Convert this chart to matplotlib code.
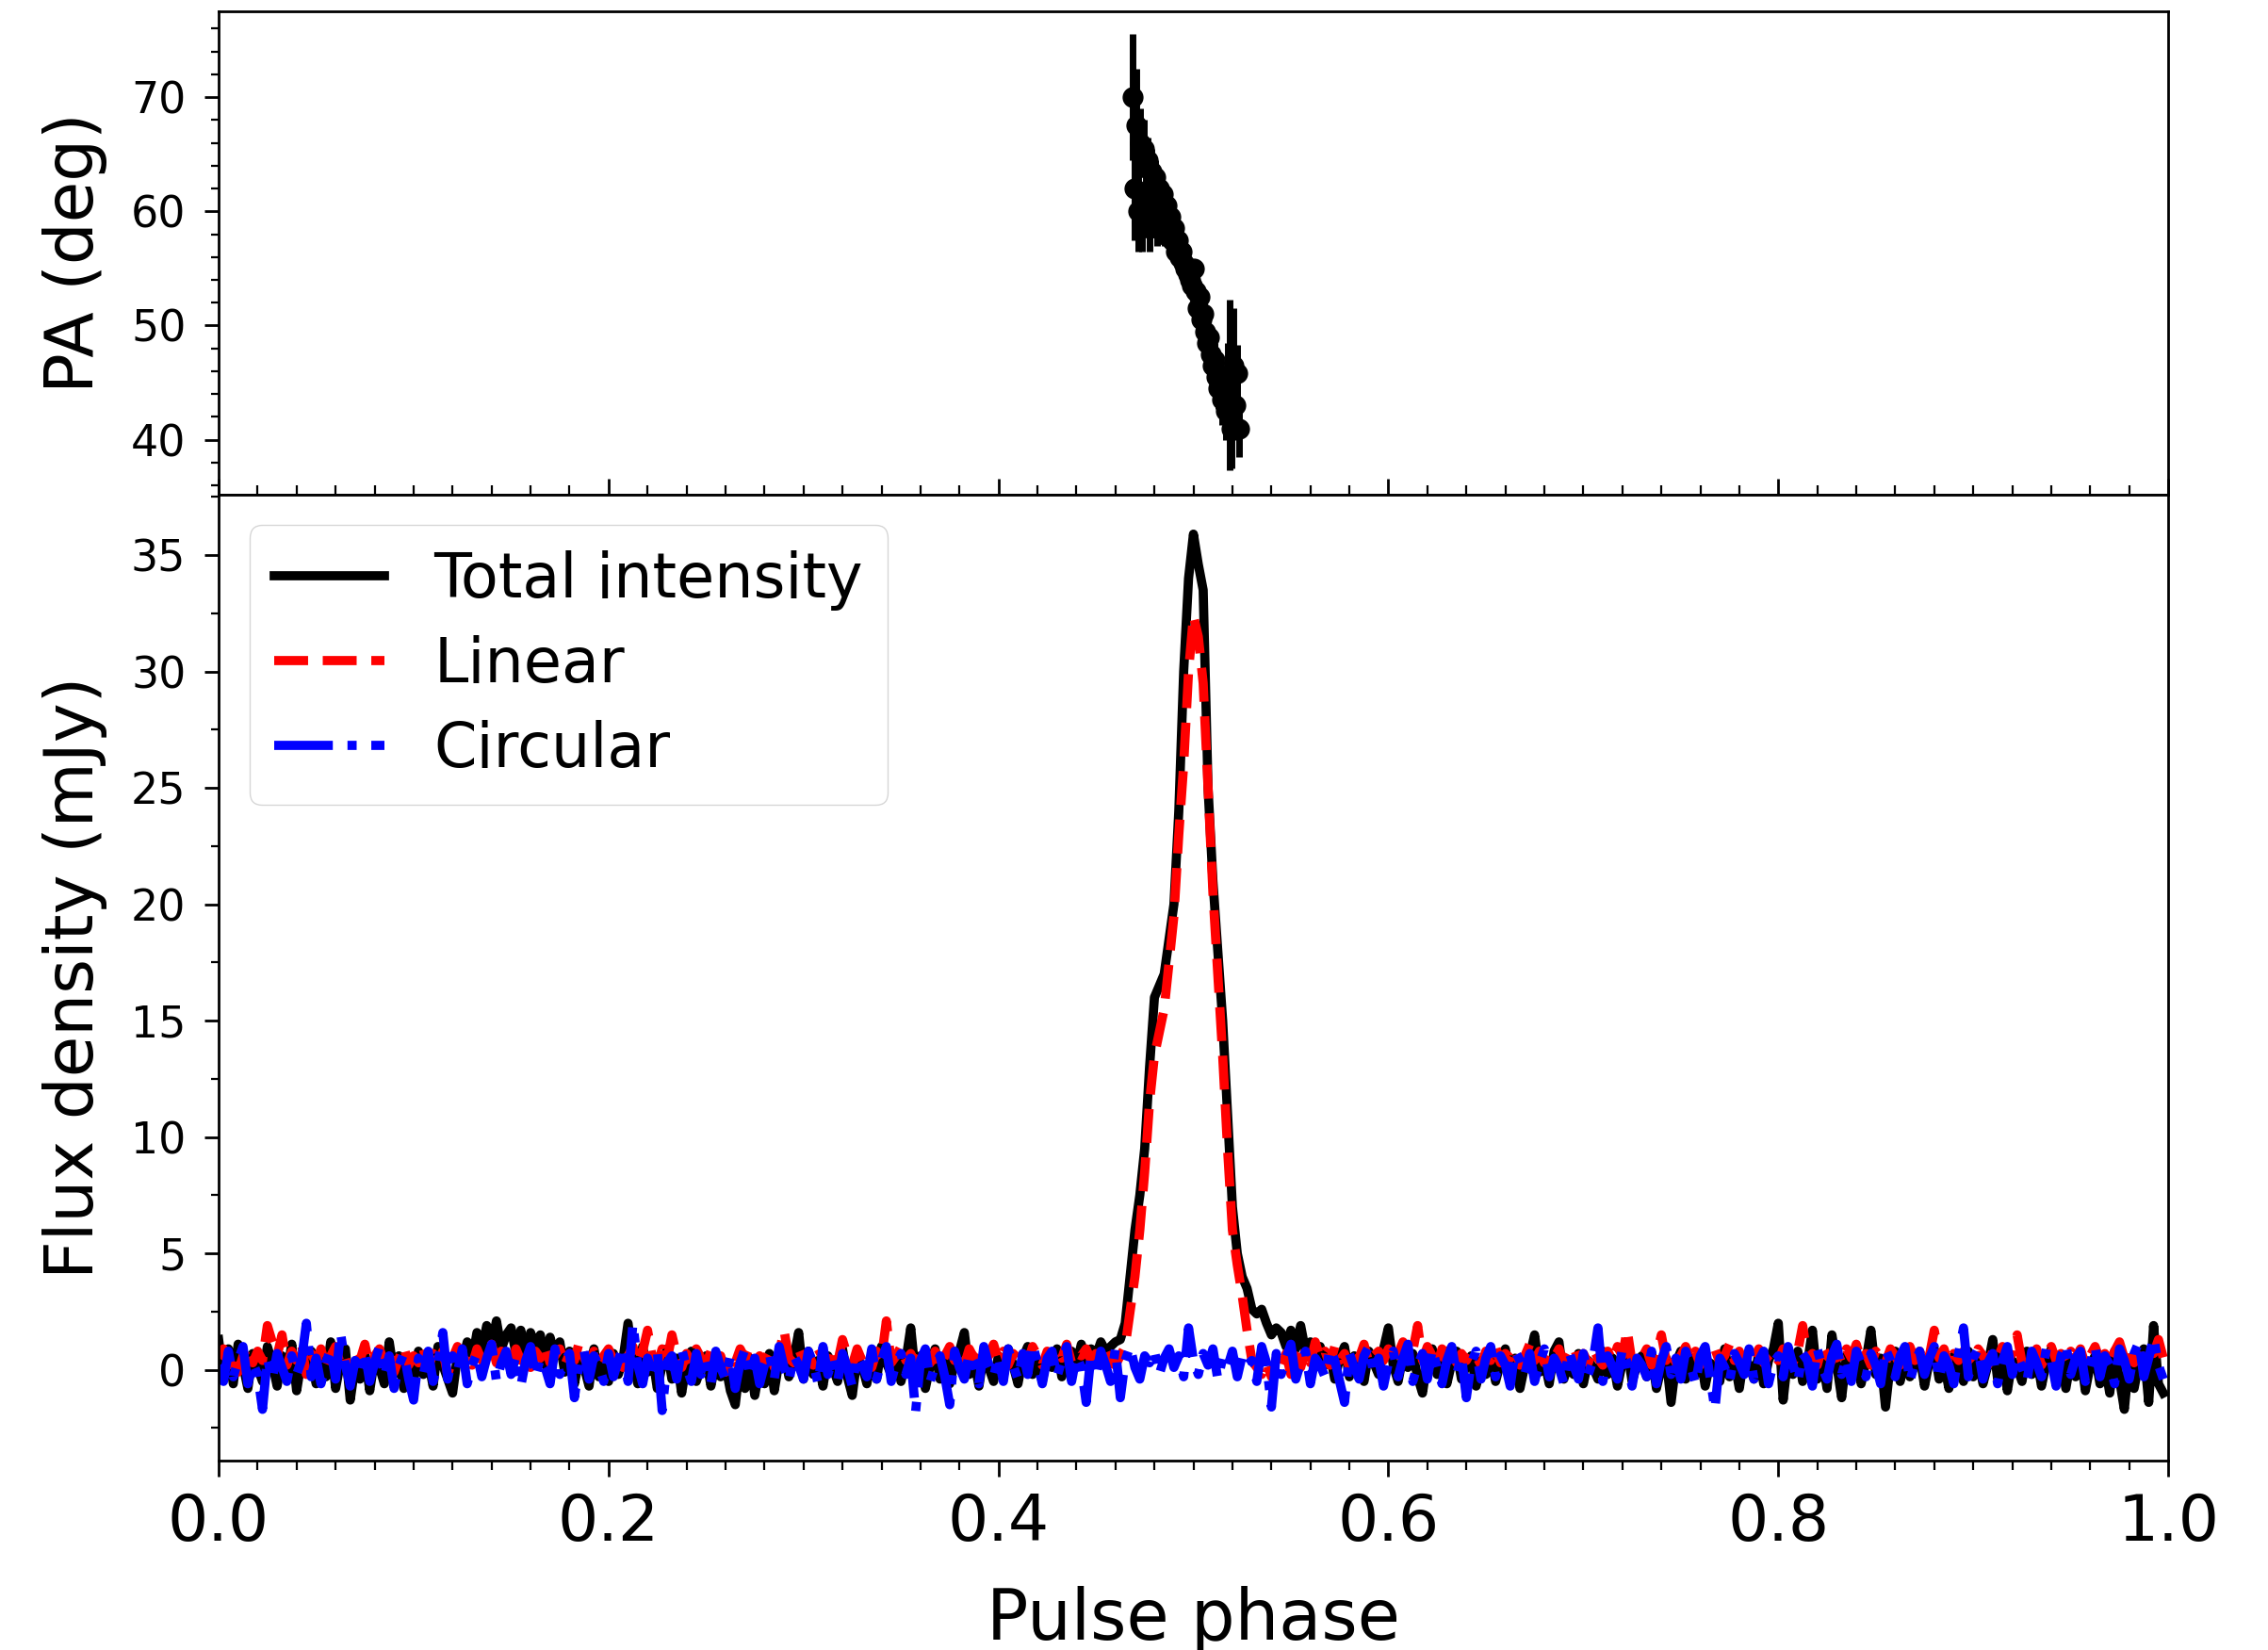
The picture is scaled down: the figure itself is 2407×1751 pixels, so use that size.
import numpy as np
import matplotlib
matplotlib.use('Agg')
import matplotlib.pyplot as plt
from matplotlib.ticker import MultipleLocator

# Pulse profile, 400 phase bins
n_bins = 400
phase = np.arange(n_bins) / n_bins

total_I = [
    1.3, -0.4, 0.9, -0.6, 1.1, 0.2, -0.8, 0.7, 0.1, -0.5, 1.0, 0.3, -0.7, 0.6, -0.2, 1.1, -0.9, 0.4, 0.0, 0.8,
    -0.6, 0.5, -0.3, 1.2, -0.8, 0.3, 0.9, -1.3, 0.2, -0.4, 0.7, -0.9, 0.5, 0.1, -0.6, 1.2, -0.2, 0.6, -0.8, 0.3,
    -0.5, 0.8, -0.2, 0.4, -0.7, 1.0, 0.2, -0.4, -1.0, 0.6, 0.3, 1.2, 0.4, 1.6, 0.8, 1.9, 1.1, 2.1, 0.9, 1.5,
    1.8, 0.7, 1.7, 0.3, 1.6, 1.0, 1.5, 0.2, 1.4, 0.6, 1.2, -0.1, 0.8, -0.6, 0.5, 0.1, -0.7, 0.9, -0.3, 0.4,
    -0.5, 0.7, -0.2, 0.5, 2.0, 0.3, -0.6, 1.0, -0.1, 0.6, -0.8, 0.2, 0.9, -0.4, 0.5, -1.0, 0.3, 0.8, -0.5, 0.1,
    0.6, -0.7, 0.4, -0.3, 0.2, -0.9, -1.5, 0.3, -0.8, 0.5, -1.1, 0.1, -0.6, 0.7, -0.9, 0.4, 0.9, -0.3, 0.5, 1.6,
    -0.4, 0.8, -0.2, 0.4, -0.7, 0.6, 0.1, -0.5, 0.9, -0.3, -1.1, 0.5, 0.2, -0.6, 0.7, -0.4, 1.0, 0.3, -0.2, 0.6,
    -0.5, 0.4, 1.8, -0.3, 0.6, -0.8, 0.2, 0.9, -0.4, 0.5, -0.6, 0.3, 0.8, 1.6, -0.2, 0.4, -0.7, 0.7, 0.1, -0.5,
    0.6, -0.3, 0.9, 0.2, -0.6, 0.5, 1.0, -0.2, 0.4, -0.5, 0.7, 0.1, 0.9, -0.3, 0.6, 0.8, 0.2, 1.1, 0.4, 0.9,
    0.6, 1.2, 0.8, 1.0, 1.2, 1.3, 2.0, 4.0, 6.0, 7.5, 9.5, 13.0, 16.0, 16.5, 17.0, 18.5, 20.0, 24.0, 30.0, 34.0,
    35.9, 34.6, 33.5, 25.0, 21.0, 18.0, 15.0, 11.0, 7.0, 5.0, 4.0, 3.5, 2.6, 2.4, 2.6, 2.0, 1.5, 1.8, 1.6, 1.0,
    1.7, 0.9, 1.9, 0.8, 1.2, 0.4, 1.0, 0.2, 0.7, -0.4, 0.5, 1.0, -0.3, 0.6, 0.2, -0.5, 0.8, 0.3, -0.2, 0.9,
    1.8, 0.2, -0.5, 0.6, 0.1, 0.7, -0.3, -1.0, 0.4, 0.9, -0.2, 0.5, -0.6, 0.3, 0.8, -0.4, 0.2, 0.6, -0.7, 0.4,
    -0.2, 0.7, -0.5, 0.3, 0.9, -0.3, 0.5, -0.8, 0.2, 0.6, 1.5, -0.1, 0.4, -0.6, 0.8, 1.2, -0.4, 0.3, -0.2, 0.7,
    -0.6, 0.4, 0.1, -0.4, 0.8, -0.2, 0.5, -0.7, 0.3, 0.9, -0.5, 0.2, 0.6, -0.3, 0.7, -0.8, 0.1, 0.5, -1.4, 0.3,
    0.8, -0.4, 0.5, -0.2, 0.6, -0.7, 0.3, 0.1, -0.5, 0.9, -0.3, 0.4, -0.8, 0.6, 0.2, -0.4, 0.7, -0.6, 0.4, 0.9,
    2.0, -1.3, 0.6, -0.2, 0.8, -0.5, 0.3, 1.7, -0.4, 0.5, -0.8, 1.5, 0.2, -1.2, 0.6, -0.3, 0.9, -0.6, 0.4, 1.7,
    -0.2, 0.5, -1.6, 0.3, 0.8, -0.5, 0.6, -0.3, 0.2, 0.7, -0.7, 0.4, 0.9, -0.4, 0.3, -0.8, 0.6, 0.1, -0.5, 0.8,
    -0.3, 0.5, -0.6, 0.2, 1.3, -0.4, 0.7, -0.9, 0.4, 0.1, -0.5, 0.8, -0.2, 0.6, -0.7, 0.3, 0.9, -0.4, 0.5, -0.8,
    0.4, -0.3, 0.7, -0.9, 0.2, 0.6, -0.6, 0.3, -1.0, 0.8, -0.4, -1.7, 0.5, -0.8, 0.3, 0.9, -1.4, 1.9, -0.6, -1.0,
]

linear_L = [
    0.5, 0.9, 0.2, 0.7, -0.1, 0.6, 1.0, 0.3, 0.8, 0.4, 1.9, 1.2, 0.6, 1.5, 0.2, 0.8, 0.4, 1.1, -0.2, 0.7,
    0.3, 0.9, 0.1, 0.6, 1.0, 0.2, 0.5, -0.3, 0.8, 0.4, 1.1, 0.1, 0.6, 0.9, 0.3, 0.7, -0.1, 0.5, 1.0, 0.2,
    0.6, 0.3, 0.9, 0.1, 0.7, 0.4, 0.8, -0.2, 0.5, 1.0, 0.3, 0.7, 0.2, 0.9, 0.4, 0.6, 1.1, 0.3, 0.8, 0.5,
    0.2, 0.9, 0.4, 0.7, 0.1, 0.8, 0.5, 1.0, 0.3, 0.6, 0.9, 0.2, 0.7, 0.4, 1.2, 0.5, 0.1, 0.8, 0.3, 0.6,
    0.9, 0.4, 0.7, 0.1, 0.6, 1.0, 0.3, 0.8, 1.7, 0.5, 0.2, 0.9, 0.4, 1.5, 0.6, 0.1, 0.7, 0.3, 0.9, 0.5,
    0.2, 0.8, 0.4, 0.6, -0.1, 0.7, 0.3, 0.9, 0.5, 1.0, 0.2, 0.6, 0.4, 0.8, 0.1, 0.7, 1.7, 0.5, 0.3, 0.9,
    0.4, 0.7, 0.2, 0.9, 0.5, 0.1, 0.8, 0.3, 1.3, 0.6, 0.2, 0.9, 0.4, 0.7, 0.1, 0.8, 0.5, 2.1, 0.3, 0.6,
    1.0, 0.4, 0.7, 0.2, 0.9, 0.5, 0.3, 0.8, 0.1, 0.6, 1.0, 0.4, 0.7, 0.2, 0.9, 0.5, 0.8, 0.3, 0.6, 1.1,
    0.4, 0.8, 0.2, 0.7, 0.5, 0.9, 0.3, 1.0, 0.6, 0.2, 0.8, 0.4, 0.9, 0.5, 1.1, 0.3, 0.7, 0.6, 0.9, 0.4,
    0.7, 0.5, 0.8, 0.3, 0.2, 0.6, 1.0, 2.5, 4.0, 6.0, 8.5, 11.5, 13.5, 14.5, 15.5, 17.5, 19.5, 23.0, 26.0, 30.0,
    32.4, 31.5, 29.5, 25.0, 20.5, 17.0, 13.5, 9.5, 6.0, 4.5, 3.2, 1.7, 0.4, 0.1, -0.2, 0.3, -0.3, 0.5, 0.0, 0.7,
    -0.2, 0.6, 0.1, 0.9, 0.3, 1.2, 0.5, 0.8, 0.2, 1.0, 0.4, 0.7, 0.1, 0.9, 0.5, 1.1, 0.3, 0.6, 0.8, 0.4,
    0.9, 0.3, 0.7, 1.2, 0.5, 0.8, 1.9, 0.4, 1.0, 0.6, 0.2, 0.9, 0.5, 1.1, 0.3, 0.7, 0.4, 0.8, 0.6, 0.2,
    0.8, 0.4, 1.0, 0.3, 0.7, 0.5, 0.9, 0.2, 0.6, 1.1, 0.4, 0.8, 0.3, 0.7, 0.5, 0.9, 0.2, 0.6, 1.0, 0.4,
    0.7, 0.3, 0.9, 0.5, 0.2, 0.8, 0.4, 1.0, 0.6, 1.7, 0.3, 0.7, 0.5, 0.9, 0.2, 0.6, 1.5, 0.4, 0.8, 0.3,
    0.6, 1.0, 0.4, 0.8, 0.2, 0.7, 0.5, 0.9, 0.3, 0.6, 1.1, 0.4, 0.8, 0.2, 0.7, 0.5, 0.9, 0.3, 0.6, 0.8,
    0.4, 0.9, 0.6, 0.3, 0.8, 1.9, 0.5, 0.7, 0.2, 1.0, 0.6, 0.4, 0.8, 0.3, 0.9, 0.5, 1.1, 0.4, 0.7, 0.2,
    0.8, 0.5, 0.3, 0.9, 0.6, 0.2, 0.7, 1.0, 0.4, 0.8, 0.3, 0.6, 1.7, 0.5, 0.9, 0.2, 0.7, 0.4, 0.8, 0.5,
    0.3, 0.9, 0.6, 0.2, 0.8, 0.5, 1.0, 0.4, 0.7, 1.5, 0.3, 0.8, 0.5, 0.9, 0.2, 0.6, 1.0, 0.4, 0.7, 0.3,
    0.8, 0.5, 0.9, 0.2, 0.6, 1.0, 0.4, 0.7, 0.3, 0.8, 1.2, 0.5, 0.9, 0.3, 0.6, 0.4, 1.0, 0.7, 1.3, 0.5,
]

circular_V = [
    0.2, -0.5, 0.8, -0.3, 0.4, 1.0, -0.6, 0.3, -0.2, -1.7, 0.5, -0.4, 0.7, 0.1, -0.5, 0.6, -0.2, 0.4, 2.0, -0.3,
    0.5, -0.6, 0.3, 0.9, -0.4, 1.6, 0.2, -0.7, 0.4, -0.2, 0.8, -0.5, 0.3, 1.0, -0.3, 0.6, -0.8, 0.2, 0.7, -0.4,
    -1.3, 0.5, -0.2, 0.8, -0.5, 0.3, 1.6, -0.4, 0.6, -0.1, 0.9, -0.6, 0.2, 0.7, -0.3, 0.5, 1.1, -0.5, 0.3, 0.8,
    -0.2, 0.6, -0.7, 0.4, 1.0, -0.3, 0.5, 0.1, -0.6, 0.9, -0.2, 0.4, 0.7, -1.2, 0.3, 0.8, -0.4, 0.6, 0.2, -0.5,
    0.7, -0.3, 0.4, 1.0, -0.5, 2.0, 0.2, -0.6, 0.5, -0.2, 0.8, -1.75, 0.3, 0.6, -0.4, 0.9, 0.1, -0.5, 0.7, -0.2,
    0.4, -0.6, 0.8, 0.1, -0.4, 0.6, -0.8, 0.3, 0.9, -0.3, 0.5, -0.6, 0.2, 0.7, -0.4, 1.0, 0.1, -0.5, 0.6, 0.2,
    -0.4, 0.8, 0.3, -0.6, 1.0, -0.2, 0.5, -0.5, 0.7, 0.1, -0.7, 0.6, 0.2, -0.3, 0.9, -0.4, 0.4, 1.0, -0.5, 0.3,
    0.7, -0.2, 0.5, -1.8, 0.4, 0.9, -0.5, 0.2, 0.6, -0.3, -1.5, 0.8, 0.1, -0.4, 0.7, 0.3, -0.6, 1.0, 0.2, -0.3,
    0.6, -0.5, 0.9, 0.2, -0.4, 0.7, -0.2, 1.1, 0.3, -0.6, 0.5, 0.8, -0.3, 0.4, 1.0, -0.5, 0.6, 0.1, -1.4, 0.7,
    -0.3, 0.8, 0.2, -0.5, 0.9, -1.2, 0.4, 1.0, 0.1, -0.4, 0.6, 0.3, 0.8, -0.2, 0.5, 0.9, 0.1, 0.6, -0.3, 1.8,
    0.4, -0.2, 0.7, 0.2, 0.9, -0.4, 0.5, 0.1, 0.8, -0.3, 0.6, 0.2, 0.4, -0.5, 1.0, 0.3, -1.6, 0.7, -0.2, 0.5,
    1.1, -0.4, 0.3, 0.8, -0.6, 0.5, 0.2, -0.3, 0.9, 0.4, -0.5, -1.4, 0.7, 0.1, -0.4, 0.6, 1.0, -0.2, 0.5, -0.7,
    0.3, 0.8, -0.3, 0.5, 1.1, -0.5, 0.2, 0.7, -0.4, 0.9, 0.1, -0.6, 0.4, 1.0, -0.2, 0.6, -1.2, 0.3, 0.8, -0.4,
    0.5, 1.0, -0.3, 0.6, 0.2, -0.7, 0.8, 0.4, -0.2, 0.7, -0.5, 0.3, 0.9, -0.3, 0.5, 0.1, -0.6, 0.8, 0.2, -0.4,
    0.7, -0.2, 0.4, 1.8, -0.5, 0.6, 0.1, -0.4, 0.9, 0.3, -0.7, 0.5, 0.2, -0.3, 0.8, -0.6, 0.4, 1.0, -0.2, 0.5,
    -0.4, 0.8, 0.2, -0.6, 0.6, 1.0, -0.3, -1.7, 0.5, 0.1, -0.5, 0.7, 0.3, -0.2, 0.9, -0.4, 0.4, 0.8, -0.6, 0.3,
    0.6, -0.3, 1.0, 0.2, -0.5, 0.7, 0.4, -0.7, 0.9, 0.1, -0.4, 0.6, 1.1, -0.2, 0.5, -0.5, 0.8, 0.3, -0.3, 0.7,
    0.2, -0.6, 0.9, 0.4, -0.3, 0.6, 1.0, -0.5, 0.3, 0.8, -0.2, 0.5, 1.0, -0.4, 0.6, 0.2, -0.6, 0.7, 1.8, -0.3,
    0.5, 0.9, -0.4, 0.3, 0.7, -0.6, 0.4, 1.0, -0.2, 0.6, 0.1, -0.5, 0.8, 0.3, -0.3, 0.9, 0.4, -0.7, 0.6, 1.1,
    -0.2, 0.5, 0.8, -0.5, 0.3, 1.0, -0.3, 0.6, 0.2, -0.6, 0.9, 0.4, -0.4, 0.7, 1.2, -0.3, 0.5, 1.4, 0.2, -0.4,
]

# Position angle points (bins of a 1024-bin profile), PA and 1-sigma errors in deg
pa_bin = [480, 481, 482, 483, 484, 485, 486, 487, 488, 489, 490, 491, 492, 493, 494, 495, 496, 497, 498, 499,
          500, 501, 502, 503, 504, 505, 506, 507, 508, 509, 510, 511, 512, 513, 514, 515, 516, 517, 518, 519,
          520, 521, 522, 523, 524, 525, 526, 527, 528, 529, 530, 531, 532, 533, 534, 535, 536]
pa_deg = [70.0, 62.0, 67.5, 60.0, 66.0, 59.0, 65.5, 61.0, 64.5, 58.5, 63.5, 60.0, 63.0, 58.5, 62.0, 59.5,
          61.5, 58.0, 60.5, 58.5, 59.5, 57.5, 58.5, 56.5, 57.5, 56.0, 56.5, 55.5, 55.0, 54.5, 54.0, 53.5,
          55.0, 53.0, 51.5, 52.5, 50.5, 51.0, 49.5, 48.5, 49.0, 47.5, 46.5, 47.0, 45.5, 44.5, 45.0, 43.5,
          44.0, 42.5, 45.5, 44.8, 41.0, 46.5, 43.0, 45.8, 41.0]
pa_err = [5.5, 4.5, 5.0, 3.5, 3.0, 2.5, 2.5, 2.5, 2.0, 2.0, 2.0, 1.5, 1.5, 1.5, 1.5, 1.2,
          1.2, 1.0, 1.0, 1.0, 0.8, 0.8, 0.8, 0.7, 0.7, 0.6, 0.6, 0.6, 0.5, 0.5, 0.5, 0.5,
          0.5, 0.5, 0.6, 0.6, 0.7, 0.7, 0.8, 0.9, 1.0, 1.2, 1.3, 1.5, 1.6, 1.8, 2.0, 2.2,
          2.5, 2.5, 3.0, 7.5, 3.5, 5.0, 3.0, 2.5, 2.5]
pa_phase = np.array(pa_bin) / 1024

fig, (ax1, ax2) = plt.subplots(2, 1, sharex=True, figsize=(24.07, 17.51), dpi=100,
                               gridspec_kw={'height_ratios': [1, 2], 'hspace': 0})
fig.subplots_adjust(left=0.0964, right=0.956, top=0.993, bottom=0.1148)

# top panel: PA
ax1.errorbar(pa_phase, pa_deg, yerr=pa_err, fmt='o', color='black', ms=15,
             elinewidth=5, capsize=0)
ax1.set_ylim(35.2, 77.5)
ax1.set_ylabel('PA (deg)', fontsize=51, labelpad=18)
ax1.yaxis.set_major_locator(MultipleLocator(10))
ax1.yaxis.set_minor_locator(MultipleLocator(2))

# bottom panel: flux
lw = 7
ax2.plot(phase, total_I, color='black', lw=lw, label='Total intensity')
ax2.plot(phase, linear_L, color='red', ls='--', lw=lw, label='Linear')
ax2.plot(phase, circular_V, color='blue', ls='-.', lw=lw, label='Circular')
ax2.set_xlim(0, 1)
ax2.set_ylim(-3.9, 37.6)
ax2.set_xlabel('Pulse phase', fontsize=53, labelpad=24)
ax2.set_ylabel('Flux density (mJy)', fontsize=51, labelpad=18)
ax2.yaxis.set_major_locator(MultipleLocator(5))
ax2.yaxis.set_minor_locator(MultipleLocator(2.5))
ax2.xaxis.set_major_locator(MultipleLocator(0.2))
ax2.xaxis.set_minor_locator(MultipleLocator(0.02))
ax2.legend(loc='upper left', fontsize=47, labelspacing=0.4, handlelength=1.8)

for ax in (ax1, ax2):
    for sp in ax.spines.values():
        sp.set_linewidth(2)
    ax.tick_params(axis='y', which='major', length=11, width=2, labelsize=33, pad=14)
    ax.tick_params(axis='y', which='minor', length=5.5, width=1.6)

ax1.tick_params(axis='x', which='major', direction='in', length=12, width=2)
ax1.tick_params(axis='x', which='minor', direction='in', length=7, width=1.6)
ax2.tick_params(axis='x', which='major', length=12, width=2, labelsize=49, pad=12)
ax2.tick_params(axis='x', which='minor', length=7, width=1.6)

fig.savefig('out.png', dpi=100)
